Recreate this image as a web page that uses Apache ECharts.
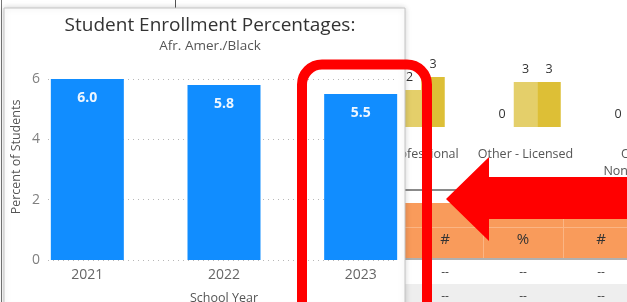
<!DOCTYPE html>
<html>
<head>
<meta charset="utf-8">
<script src="https://cdn.jsdelivr.net/npm/echarts@6/dist/echarts.min.js"></script>
<style>
  html, body { margin: 0; padding: 0; background: #fff; }
  #chart { width: 627px; height: 302px; }
</style>
</head>
<body>
<div id="chart"></div>
<script>
// main chart data
var years = ['2021', '2022', '2023'];
var pctBlack = [6.0, 5.8, 5.5];
var yTicks = [0, 2, 4, 6];

// staff chart behind the card
var staffCats = ['Paraprofessional', 'Other - Licensed', 'Other -\nNon-licensed'];
var staffA = [0, 0, 0];
var staffB = [2.47, 3, 0];
var staffC = [3.33, 3, 0];

// table behind the card
var tableHead = ['#', '%', '#'];
var tableRow = ['--', '--', '--'];

var font = '"Open Sans", "Noto Sans", sans-serif';

var myChart = echarts.init(document.getElementById('chart'));

var tableGraphics = [
    { type: 'rect', z: 0, shape: { x: 405, y: 189, width: 222, height: 2 }, style: { fill: '#8a8a8a' } },
    { type: 'rect', z: 0, shape: { x: 405, y: 203, width: 222, height: 55 }, style: { fill: '#F99B5B' } },
    { type: 'rect', z: 0, shape: { x: 405, y: 227, width: 222, height: 1 }, style: { fill: '#fbb584' } },
    { type: 'rect', z: 0, shape: { x: 483, y: 228, width: 1, height: 30 }, style: { fill: '#fbb584' } },
    { type: 'rect', z: 0, shape: { x: 563, y: 203, width: 1, height: 55 }, style: { fill: '#fbb584' } },
    { type: 'rect', z: 0, shape: { x: 405, y: 258, width: 222, height: 2 }, style: { fill: '#b0b0b0' } },
    { type: 'rect', z: 0, shape: { x: 405, y: 284, width: 222, height: 18 }, style: { fill: '#eeeeee' } }
];
var colX = [445, 523, 601];
tableHead.forEach(function(t, i) {
    tableGraphics.push({ type: 'text', z: 0, x: colX[i], y: 240,
        style: { text: t, fill: '#333', font: '15px ' + font, align: 'center', verticalAlign: 'middle' } });
    tableGraphics.push({ type: 'text', z: 0, x: colX[i], y: 273,
        style: { text: tableRow[i], fill: '#444', font: '12px ' + font, align: 'center', verticalAlign: 'middle' } });
    tableGraphics.push({ type: 'text', z: 0, x: colX[i], y: 297,
        style: { text: tableRow[i], fill: '#444', font: '12px ' + font, align: 'center', verticalAlign: 'middle' } });
});

var option = {
    animation: false,
    textStyle: { fontFamily: font },
    title: {
        left: 205,
        textAlign: 'center',
        top: 11,
        itemGap: 4,
        z: 8,
        text: 'Student Enrollment Percentages:',
        subtext: 'Afr. Amer./Black',
        textStyle: { fontSize: 19, fontWeight: 'normal', color: '#333', fontFamily: font },
        subtextStyle: { fontSize: 13.5, color: '#555', fontFamily: font }
    },
    grid: [
        { left: 19, width: 410, top: 79, height: 181, outerBoundsMode: 'none' },
        { left: 48, width: 347, top: 79, height: 181, outerBoundsMode: 'none' },
        { left: 351.5, width: 348, top: 52, height: 75, outerBoundsMode: 'none' }
    ],
    xAxis: [
        {
            gridIndex: 0, type: 'category', data: years, z: 4,
            axisLine: { show: false }, axisTick: { show: false },
            axisLabel: { fontSize: 14, color: '#666', margin: 8 },
            name: 'School Year', nameLocation: 'middle', nameGap: 32,
            nameTextStyle: { fontSize: 12.5, color: '#555' }
        },
        { gridIndex: 1, type: 'value', show: false, min: 0, max: 1 },
        {
            gridIndex: 2, type: 'category', data: staffCats, z: 0,
            axisLine: { show: false }, axisTick: { show: false },
            axisLabel: { fontSize: 12.5, color: '#555', margin: 19, lineHeight: 17, interval: 0 }
        }
    ],
    yAxis: [
        { gridIndex: 0, type: 'value', min: 0, max: 6, interval: 2, show: false },
        {
            gridIndex: 1, type: 'value', min: yTicks[0], max: yTicks[yTicks.length - 1], interval: 2, z: 4,
            axisLine: { show: false }, axisTick: { show: false },
            axisLabel: { fontSize: 14, color: '#808080', margin: 8 },
            splitLine: { lineStyle: { type: [1, 4], color: '#b8b8b8', width: 1 } }
        },
        { gridIndex: 2, type: 'value', min: 0, max: 5, show: false }
    ],
    series: [
        {
            type: 'bar', xAxisIndex: 0, yAxisIndex: 0, z: 5,
            data: pctBlack, barWidth: 73,
            itemStyle: { color: '#118DFF' },
            label: {
                show: true, position: 'insideTop', distance: 12,
                color: '#eef6ff', fontSize: 14, fontWeight: 'bold',
                formatter: function(p) { return p.value.toFixed(1); }
            }
        },
        {
            type: 'bar', xAxisIndex: 2, yAxisIndex: 2, z: 0,
            data: staffA, barWidth: 23.5, barGap: '0%',
            itemStyle: { color: '#C9B22E' },
            label: { show: true, position: 'top', distance: 6, color: '#333', fontSize: 12.5,
                formatter: function(p) { return p.value.toFixed(0); } }
        },
        {
            type: 'bar', xAxisIndex: 2, yAxisIndex: 2, z: 0,
            data: staffB, barWidth: 23.5, barGap: '0%',
            itemStyle: { color: '#E4CF6A' },
            label: { show: true, position: 'top', distance: 6, color: '#333', fontSize: 12.5,
                formatter: function(p) { return p.value.toFixed(0); } }
        },
        {
            type: 'bar', xAxisIndex: 2, yAxisIndex: 2, z: 0,
            data: staffC, barWidth: 23.5, barGap: '0%',
            itemStyle: { color: '#DDBF36' },
            label: { show: true, position: 'top', distance: 6, color: '#333', fontSize: 12.5,
                formatter: function(p) { return p.value.toFixed(0); } }
        }
    ],
    graphic: tableGraphics.concat([
        // report card behind the chart
        {
            type: 'rect', z: 1,
            shape: { x: 4, y: 8, width: 401, height: 300 },
            style: { fill: '#fff', stroke: '#c4c4c4', lineWidth: 1,
                shadowBlur: 6, shadowColor: 'rgba(0,0,0,0.18)' }
        },
        {
            type: 'text', z: 8, x: 16, y: 157, rotation: Math.PI / 2,
            style: { text: 'Percent of Students', fill: '#555', font: '12.5px ' + font,
                align: 'center', verticalAlign: 'middle' }
        },
        { type: 'rect', z: 0, shape: { x: 175, y: 0, width: 1, height: 8 }, style: { fill: '#555' } },
        { type: 'rect', z: 0, shape: { x: 1, y: 0, width: 1, height: 302 }, style: { fill: '#777' } },
        // red highlight box
        {
            type: 'rect', z: 20,
            shape: { x: 302, y: 64.5, width: 125, height: 300, r: 20 },
            style: { fill: 'none', stroke: '#ff0000', lineWidth: 10 }
        },
        // red arrow
        {
            type: 'polygon', z: 20,
            shape: { points: [[446, 199], [489, 157], [489, 177], [627, 177], [627, 219], [489, 219], [489, 241]] },
            style: { fill: '#ff0000' }
        }
    ])
};

myChart.setOption(option);

window.addEventListener('resize', function() {
    myChart.resize();
});
</script>
</body>
</html>
